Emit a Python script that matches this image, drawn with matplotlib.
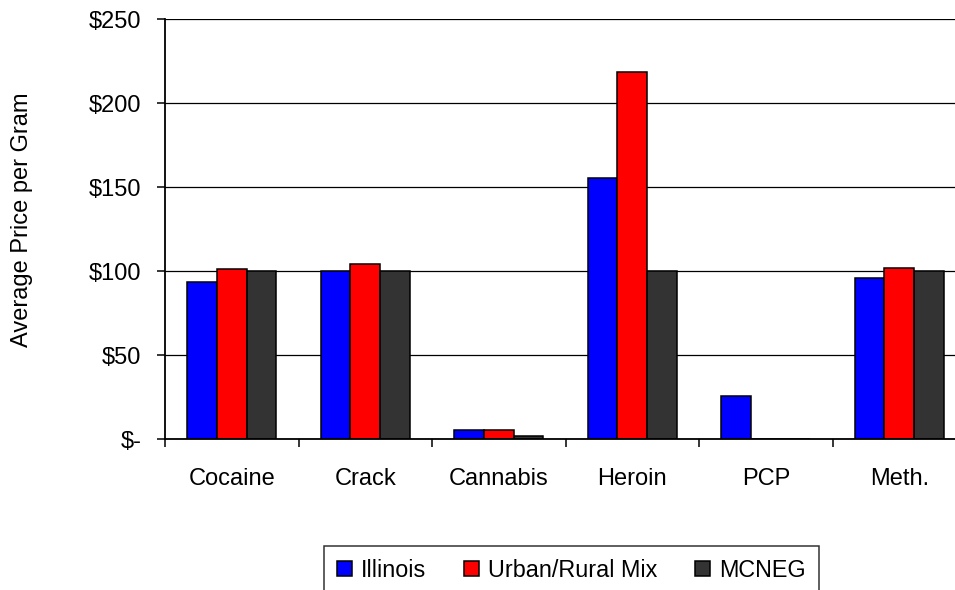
import matplotlib.pyplot as plt
import numpy as np

# average price per gram by drug, three regions
drugs = ["Cocaine", "Crack", "Cannabis", "Heroin", "PCP", "Meth."]
illinois = [93.5, 100, 5.2, 155.5, 25.5, 95.8]
urban_rural = [101, 104.2, 5.2, 218.5, 0, 101.6]
mcneg = [100, 100, 1.6, 100, 0, 100]
series_names = ["Illinois", "Urban/Rural Mix", "MCNEG"]
yticks = [0, 50, 100, 150, 200, 250]
ytick_labels = ["$-", "$50", "$100", "$150", "$200", "$250"]

COLORS = ["#0000FF", "#FF0000", "#333333"]

plt.rcParams["font.family"] = ["Liberation Sans", "DejaVu Sans"]

fig = plt.figure(figsize=(9.55, 5.9), dpi=100)
fig.patch.set_facecolor("white")
# the original image is cropped on the right, so the axes run past the figure edge
ax = fig.add_axes([165 / 955, 1 - 439 / 590, 801 / 955, 420 / 590])

x = np.arange(len(drugs))
bw = 0.222
for i, (vals, name) in enumerate(zip([illinois, urban_rural, mcneg], series_names)):
    ax.bar(x + (i - 1) * bw, vals, width=bw, color=COLORS[i], edgecolor="black",
           linewidth=1.1, label=name, zorder=3)

ax.set_xlim(-0.5, len(drugs) - 0.5)
ax.set_ylim(0, 250)

# gridlines
ax.set_yticks(yticks)
ax.set_yticklabels(ytick_labels, fontsize=17)
ax.yaxis.grid(True, color="black", linewidth=0.9, zorder=0)
ax.tick_params(axis="y", direction="out", length=6, width=1.1, pad=11)

# tick marks between categories, labels at centers
ax.set_xticks(np.arange(len(drugs) + 1) - 0.5)
ax.set_xticklabels([])
ax.set_xticks(x, minor=True)
ax.set_xticklabels(drugs, minor=True, fontsize=17)
ax.tick_params(axis="x", which="major", direction="out", length=6, width=1.1)
ax.tick_params(axis="x", which="minor", length=0, pad=21)

for s in ["top", "right"]:
    ax.spines[s].set_visible(False)
for s in ["left", "bottom"]:
    ax.spines[s].set_linewidth(1.3)
    ax.spines[s].set_zorder(4)

ax.set_ylabel("Average Price per Gram", fontsize=17, va="center")
ax.yaxis.set_label_coords(-0.178, 0.521)

leg = fig.legend(loc="upper center", bbox_to_anchor=(571.5 / 955, 1 - 546 / 590), ncol=3,
                 fontsize=16.8, frameon=True, fancybox=False, edgecolor="black",
                 handlelength=0.65, handleheight=0.65, handletextpad=0.4,
                 columnspacing=1.6, borderpad=0.55, borderaxespad=0)
leg.get_frame().set_linewidth(1.1)

fig.savefig("out.png", dpi=100, facecolor="white")
